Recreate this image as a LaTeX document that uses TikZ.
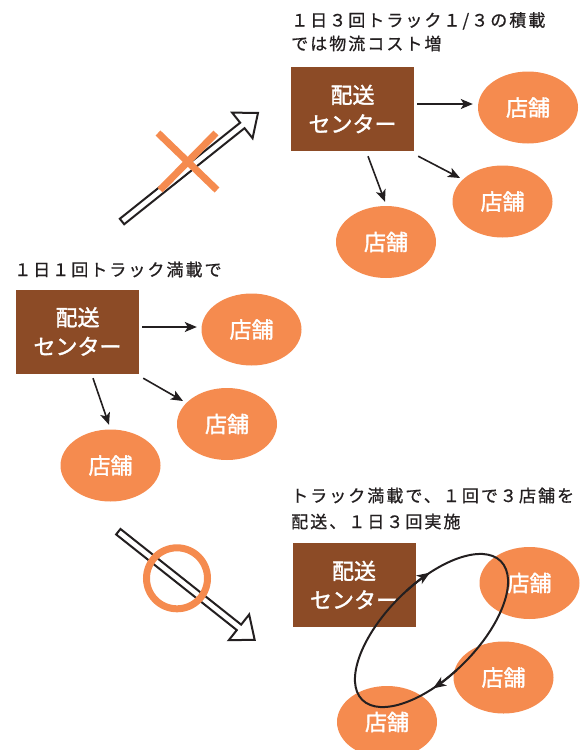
\documentclass[tikz,border=0pt]{standalone}
\usepackage{fontspec}
\setmainfont{Noto Sans CJK JP}
\newfontfamily\capfont[LetterSpace=12,FakeBold=0.8]{Noto Sans CJK JP}
\newfontfamily\boxfont[FakeBold=1.5]{Noto Sans CJK JP}
\usetikzlibrary{arrows.meta,calc,shapes.geometric}
\definecolor{brownbox}{HTML}{8C4B26}
\definecolor{storeor}{HTML}{F58B4F}
\definecolor{ink}{HTML}{231F20}
\tikzset{
  center/.style={fill=brownbox, minimum width=123pt, minimum height=84pt, inner sep=0pt,
    text=white, align=center, font=\boxfont\fontsize{22}{29}\selectfont},
  store/.style={ellipse, fill=storeor, minimum width=100pt, minimum height=72pt, inner sep=0pt,
    text=white, font=\boxfont\fontsize{22}{26}\selectfont},
  caption/.style={anchor=base west, inner sep=0pt, text=ink, font=\capfont\fontsize{17}{20}\selectfont},
  conn/.style={draw=ink, line width=1.6pt, -{Stealth[length=12pt,width=10pt,inset=3pt]}},
  hollow/.style={draw=ink, line width=2pt, fill=white, line join=miter},
  markline/.style={draw=storeor, line width=7pt},
  loopline/.style={draw=ink, line width=2pt},
  looparrow/.style={draw=ink, line width=2pt, -{Stealth[length=13pt,width=10pt,inset=3.5pt]}},
}
\begin{document}
\begin{tikzpicture}[x=1pt,y=1pt]
\useasboundingbox (0,0) rectangle (583,-750);

% captions
\node[caption] (cap1a) at (291,-26.5) {１日３回トラック１/３の積載};
\node[caption] (cap1b) at (291,-50) {では物流コスト増};
\node[caption] (cap2) at (14,-276) {１日１回トラック満載で};
\node[caption] (cap3a) at (291,-502) {トラック満載で、１回で３店舗を};
\node[caption] (cap3b) at (291,-528) {配送、１日３回実施};

% top group
\node[center] (c1) at (352.5,-109) {配送\\センター};
\node[store] (s1) at (528,-107.5) {店舗};
\node[store] (s2) at (502.5,-201.5) {店舗};
\node[store] (s3) at (386,-242) {店舗};
\draw[conn] ($(c1.east)+(3,5)$) -- ($(s1.west)+(-5,3.5)$);
\draw[conn] ($(c1.south)+(15.5,-5)$) -- ($(s3.north)+(-1,4)$);
\draw[conn] ($(c1.south east)+(4,-5)$) -- ($(s2.center)+(-42.5,23.5)$);

% middle group
\node[center] (c2) at (77.5,-331.5) {配送\\センター};
\node[store] (t1) at (251.5,-329.5) {店舗};
\node[store] (t2) at (227,-424) {店舗};
\node[store] (t3) at (110.5,-465.5) {店舗};
\draw[conn] ($(c2.east)+(3,4.5)$) -- ($(t1.west)+(-4.5,2.5)$);
\draw[conn] ($(c2.south)+(15.5,-4.5)$) -- ($(t3.north)+(-1.5,4.5)$);
\draw[conn] ($(c2.south east)+(4,-4.5)$) -- ($(t2.center)+(-44,23)$);

% bottom group
\node[center] (c3) at (354,-585) {配送\\センター};
\node[store] (u1) at (529.5,-583) {店舗};
\node[store] (u2) at (503.5,-677.5) {店舗};
\node[store] (u3) at (387,-722) {店舗};
\begin{scope}[shift={(431.5,-630.5)}, rotate=45]
  \draw[loopline] (0,0) ellipse [x radius=98, y radius=46];
  \draw[looparrow] ({98*cos(84)},{46*sin(84)}) arc [x radius=98, y radius=46, start angle=84, end angle=66];
  \draw[looparrow] ({98*cos(264)},{46*sin(264)}) arc [x radius=98, y radius=46, start angle=264, end angle=246];
\end{scope}

% hollow arrows
\begin{scope}[shift={(122,-221.5)}, rotate=38.6]
  \draw[hollow] (0,-3.5) -- (154,-3.5) -- (154,-16.4) -- (174,0) -- (154,16.4) -- (154,3.5) -- (0,3.5) -- cycle;
\end{scope}
\begin{scope}[shift={(118.3,-531.7)}, rotate=-38.4]
  \draw[hollow] (0,-3.5) -- (154,-3.5) -- (154,-16.4) -- (174,0) -- (154,16.4) -- (154,3.5) -- (0,3.5) -- cycle;
\end{scope}

% cross and circle marks
\draw[markline] (158,-133) -- (217,-190);
\draw[markline] (216,-133) -- (160,-190);
\draw[markline] (177,-578.3) circle [radius=30.5];
\end{tikzpicture}
\end{document}
